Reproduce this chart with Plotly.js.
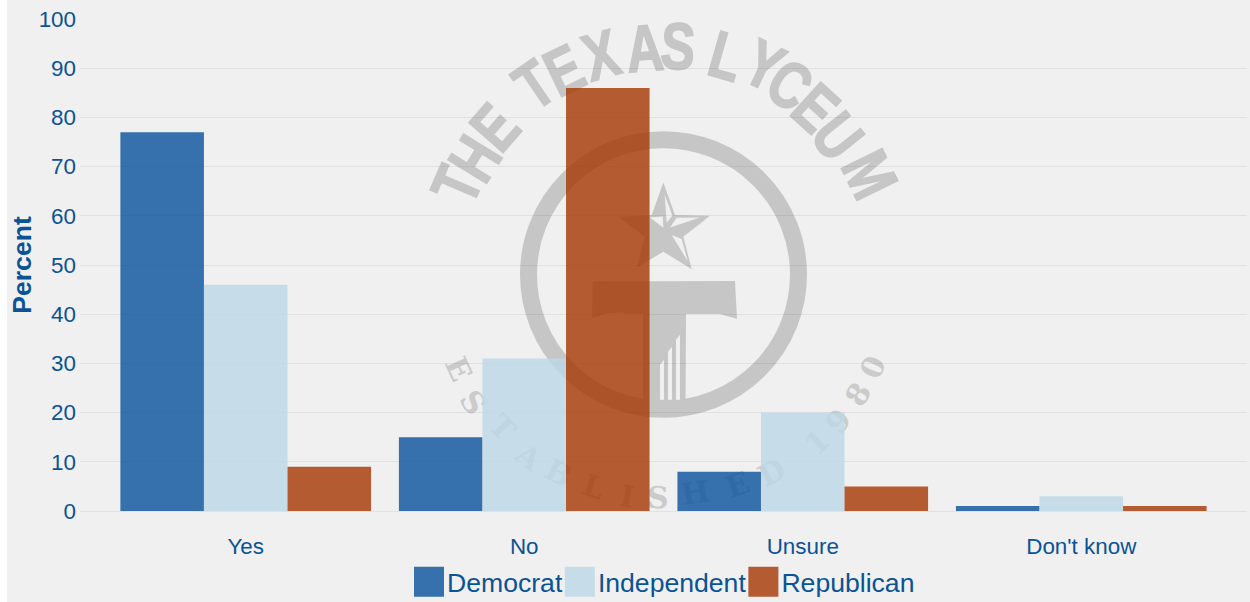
<!DOCTYPE html>
<html><head><meta charset="utf-8">
<script src="https://cdn.plot.ly/plotly-3.0.1.min.js"></script>
<style>html,body{margin:0;padding:0;background:#fff;overflow:hidden}#chart{position:absolute;left:7px;top:0;width:1243px;height:602px}</style>
</head><body><div id="chart"></div>
<script>
const categories = ["Yes", "No", "Unsure", "Don't know"];
const democrat = [77, 15, 8, 1];
const independent = [46, 31, 20, 3];
const republican = [9, 86, 5, 1];
const tickValues = [0, 10, 20, 30, 40, 50, 60, 70, 80, 90, 100];
const colorDem = "rgba(8,81,156,0.8)", colorInd = "rgba(189,215,231,0.8)", colorRep = "rgba(166,54,3,0.8)";
const inkColor = "#0b5394", gridColor = "rgba(0,0,0,0.06)", markColor = "#c6c6c6", paperColor = "#f0f0f0";

// watermark geometry, in window pixels
const L = 80, R = 1247, T = 18.5, B = 511.5, CX = 663.5, CY = 274.5;
const fx = x => (x - L) / (R - L), fy = y => (B - y) / (B - T);
const path = pts => pts.map((p, i) => (i ? "L" : "M") + fx(p[0]).toFixed(5) + "," + fy(p[1]).toFixed(5)).join(" ") + " Z";
const shape = (pts, fill) => ({type: "path", xref: "paper", yref: "paper", layer: "below", path: path(pts), fillcolor: fill, line: {width: 0}});
const z = pts => pts.map(p => [610 + p[0] / 3, 175 + p[1] / 3]);

const topLetters = [["T",454,184],["H",472,157],["E",493,125],["T",532,82],["E",563,67],["X",600,52],["A",645,45],["S",678,43],
  ["L",727,53],["Y",765,62],["C",792,82],["E",818,105],["U",840,134],["M",872,173]];
const lowLetters = [["E",458,369],["S",473,403],["T",502,428],["A",528,457],["B",558,473],["L",593,487],["I",627,497],["S",658,498],
  ["H",695,493],["E",738,485],["D",772,473],["1",817,443],["9",838,422],["8",858,395],["0",873,368]];

const annotations = [];
topLetters.forEach(l => {
  const a = Math.atan2(l[1] - CX, CY - l[2]);
  const px = l[1] - 3 * Math.sin(a), py = l[2] + 3 * Math.cos(a);
  annotations.push({text: l[0], xref: "paper", yref: "paper", x: fx(px), y: fy(py), xanchor: "center", yanchor: "middle", showarrow: false,
    textangle: a * 180 / Math.PI, font: {family: "Liberation Sans", size: 66, color: markColor, weight: 700}});
});
lowLetters.forEach(l => annotations.push({text: l[0], xref: "paper", yref: "paper", x: fx(l[1]), y: fy(l[2]), xanchor: "center", yanchor: "middle", showarrow: false,
  textangle: Math.atan2(CX - l[1], l[2] - CY) * 180 / Math.PI, font: {family: "DejaVu Serif", size: 30, color: "#cbcbcb", weight: 700}}));

const shapes = [
  {type: "circle", xref: "paper", yref: "paper", layer: "below", x0: fx(CX - 135), x1: fx(CX + 135), y0: fy(CY + 135), y1: fy(CY - 135), fillcolor: "rgba(0,0,0,0)", line: {color: markColor, width: 17}},
  shape([[592.7,281.5],[735,281],[737,319],[720,314],[686,314],[685.5,405],[643,405],[643,314],[608,313],[592,318]], markColor),
  shape([[660,365],[664,360],[664,400],[660,400]], paperColor),
  shape([[668,352],[672,347],[672,400],[668,400]], paperColor),
  shape([[676,340],[680,335],[680,400],[676,400]], paperColor),
  shape(z([[160,22],[195,120],[300,122],[220,185],[245,283],[160,230],[80,278],[105,185],[25,125],[125,120]]), markColor),
  shape(z([[164,58],[187,122],[170,143]]), paperColor),
  shape(z([[200,128],[270,127],[180,157]]), paperColor),
  shape(z([[215,192],[233,258],[185,180]]), paperColor),
  shape(z([[120,127],[158,124],[160,158]]), paperColor)
];

const bar = (name, y, color) => ({type: "bar", name, x: categories, y, marker: {color, line: {width: 0}}, hoverinfo: "skip"});
const data = [bar("Democrat", democrat, colorDem), bar("Independent", independent, colorInd), bar("Republican", republican, colorRep)];

const layout = {
  width: 1243, height: 602, barmode: "group", bargap: 0.1, bargroupgap: 0,
  paper_bgcolor: paperColor, plot_bgcolor: "rgba(0,0,0,0)",
  font: {family: "Liberation Sans", color: inkColor},
  margin: {l: L - 7, r: 1250 - R, t: T, b: 602 - B, pad: 0},
  xaxis: {type: "category", range: [-0.595, 3.595], showgrid: false, zeroline: false, showline: false, ticks: "", ticklabelstandoff: 20, tickfont: {size: 22.4, color: inkColor}},
  yaxis: {range: [0, 100], tickvals: tickValues, ticktext: tickValues.map(String), showgrid: true, gridcolor: gridColor, gridwidth: 1, zeroline: true, zerolinecolor: gridColor, zerolinewidth: 1, showline: false, ticks: "", ticklabelstandoff: 3, tickfont: {size: 22.4, color: inkColor},
    title: {text: "<b>Percent</b>", font: {size: 26.6, color: inkColor}, standoff: 6}},
  legend: {orientation: "h", xref: "paper", yref: "container", x: 0.5, xanchor: "center", y: 0.0733, yanchor: "top", itemwidth: 30, font: {size: 26.6, color: inkColor}, bgcolor: "rgba(0,0,0,0)", traceorder: "normal", itemclick: false, itemdoubleclick: false},
  annotations, shapes, showlegend: true
};

const legendShift = [12, 2, -8];
Plotly.newPlot("chart", data, layout, {displayModeBar: false, responsive: false}).then(gd => {
  gd.querySelectorAll(".legend .legendbar, .legend path.legendundefined").forEach(p => p.setAttribute("d", "M15,15H-15V-15H15Z"));
  gd.querySelectorAll(".legend .legendtext").forEach(t => t.setAttribute("x", 38));
  gd.querySelectorAll(".legend .traces").forEach((t, i) => {
    const m = /translate\(([-\d.]+)[ ,]+([-\d.]+)\)/.exec(t.getAttribute("transform"));
    t.setAttribute("transform", "translate(" + (parseFloat(m[1]) + legendShift[i]) + "," + m[2] + ")");
  });
  const below = gd.querySelector(".layer-below .shapelayer") || gd.querySelector(".layer-below");
  gd.querySelectorAll(".infolayer .annotation").forEach((a, i) => {
    if (i < topLetters.length) {
      const t = a.querySelector("text"), x = t.getAttribute("x");
      t.setAttribute("transform", "translate(" + x + ",0) scale(0.78,1) translate(" + (-x) + ",0)");
      t.style.stroke = markColor;
      t.style.strokeWidth = "1.6px";
    }
    below.appendChild(a);
  });
});
</script></body></html>
